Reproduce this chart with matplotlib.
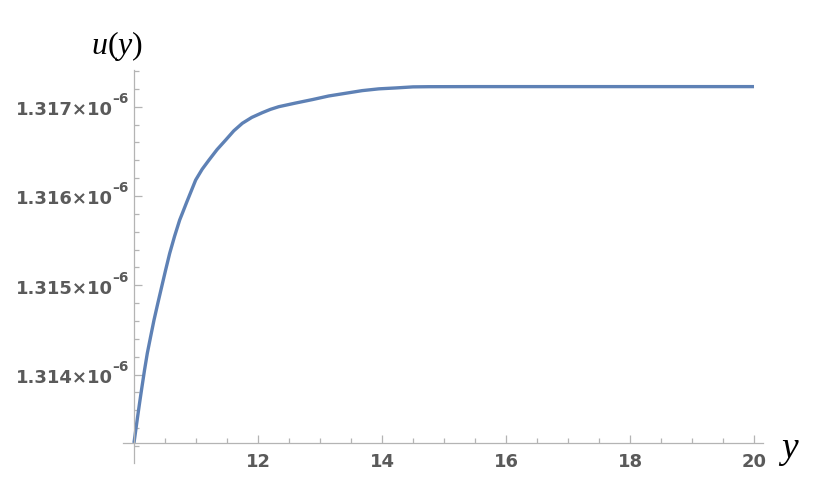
import numpy as np
import matplotlib
matplotlib.use("Agg")
import matplotlib.pyplot as plt
from matplotlib.ticker import FixedLocator, MultipleLocator, NullFormatter

# values (u in units of 1e-6)
y_vals = [10.0, 10.053, 10.09, 10.124, 10.17, 10.215, 10.27, 10.323, 10.385, 10.447,
          10.51, 10.576, 10.655, 10.737, 10.78, 10.85, 10.92, 10.995, 11.1, 11.21,
          11.34, 11.479, 11.61, 11.747, 11.9, 12.069, 12.2, 12.335, 12.6, 12.88,
          13.14, 13.41, 13.68, 13.95, 14.22, 14.5, 14.75, 15.5, 20.0]
u_vals = [1.313234, 1.31350, 1.31368, 1.31384, 1.31405, 1.314239, 1.31443, 1.314611,
          1.31480, 1.314984, 1.31517, 1.315358, 1.31555, 1.315731, 1.315806, 1.31593,
          1.31605, 1.316179, 1.31630, 1.316403, 1.31652, 1.316627, 1.31673, 1.316814,
          1.31688, 1.316933, 1.31697, 1.31700, 1.31704, 1.31708, 1.31712, 1.31715,
          1.31718, 1.31720, 1.31721, 1.317222, 1.317224, 1.317225, 1.317225]
x_ticks = [12, 14, 16, 18, 20]
u_ticks = [1.314, 1.315, 1.316, 1.317]
u_tick_labels = ["1.314", "1.315", "1.316", "1.317"]

plt.rcParams["mathtext.fontset"] = "custom"
plt.rcParams["mathtext.it"] = "Liberation Serif:italic"
plt.rcParams["mathtext.sf"] = "Liberation Serif"

axis_col = "#b4b4b4"
text_col = "#5a5a5a"
line_col = "#5e81b5"

fig = plt.figure(figsize=(8.3, 4.9), dpi=100)
ax = fig.add_axes([123 / 830, 27 / 490, 640 / 830, 393 / 490])

u = np.array(u_vals) * 1e-6
ax.plot(y_vals, u, color=line_col, lw=2.4, solid_capstyle="butt", solid_joinstyle="round")

x0 = 10.0
u0 = 1.313234e-6
ax.set_xlim(9.823, 20.145)
ax.set_ylim(1.313010e-6, 1.317411e-6)

for s in ["top", "right"]:
    ax.spines[s].set_visible(False)
ax.spines["left"].set_position(("data", x0))
ax.spines["bottom"].set_position(("data", u0))
for s in ["left", "bottom"]:
    ax.spines[s].set_color(axis_col)
    ax.spines[s].set_linewidth(0.9)

ax.xaxis.set_major_locator(FixedLocator(x_ticks))
ax.xaxis.set_minor_locator(MultipleLocator(0.5))
ax.set_xticklabels([str(t) for t in x_ticks])
ax.yaxis.set_major_locator(FixedLocator([t * 1e-6 for t in u_ticks]))
ax.yaxis.set_minor_locator(FixedLocator([t * 1e-6 for t in np.arange(1.3132, 1.31741, 0.0002)]))
ax.yaxis.set_major_formatter(NullFormatter())

ax.tick_params(axis="both", which="both", direction="in", color=axis_col, width=0.9,
               labelcolor=text_col, labelsize=13)
ax.tick_params(which="major", length=6)
ax.tick_params(which="minor", length=3.5)
ax.tick_params(axis="x", pad=7.5)
for lab in ax.get_xticklabels():
    lab.set_fontweight("bold")
    lab.set_family("DejaVu Sans")

# y tick labels in the n.nnn x 10^-6 style
for t, lab in zip(u_ticks, u_tick_labels):
    ax.annotate(lab + "\u00d710", xy=(x0, t * 1e-6), xytext=(-21.5, -8.5),
                textcoords="offset pixels", ha="right", va="baseline",
                fontsize=13, fontweight="bold", family="DejaVu Sans", color=text_col)
    ax.annotate("\u20136", xy=(x0, t * 1e-6), xytext=(-5.5, 3.5),
                textcoords="offset pixels", ha="right", va="baseline",
                fontsize=9.8, fontweight="bold", family="DejaVu Sans", color=text_col)

fig.text(117 / 830, 1 - 46 / 490, r"$\mathit{u}\mathsf{(}\mathit{y}\mathsf{)}$", fontsize=23,
         ha="center", va="center", color="black")
fig.text(789 / 830, 1 - 449 / 490, "y", fontsize=27, family="Liberation Serif",
         style="italic", ha="center", va="center", color="black")

fig.savefig("out.png", dpi=100, facecolor="white")
